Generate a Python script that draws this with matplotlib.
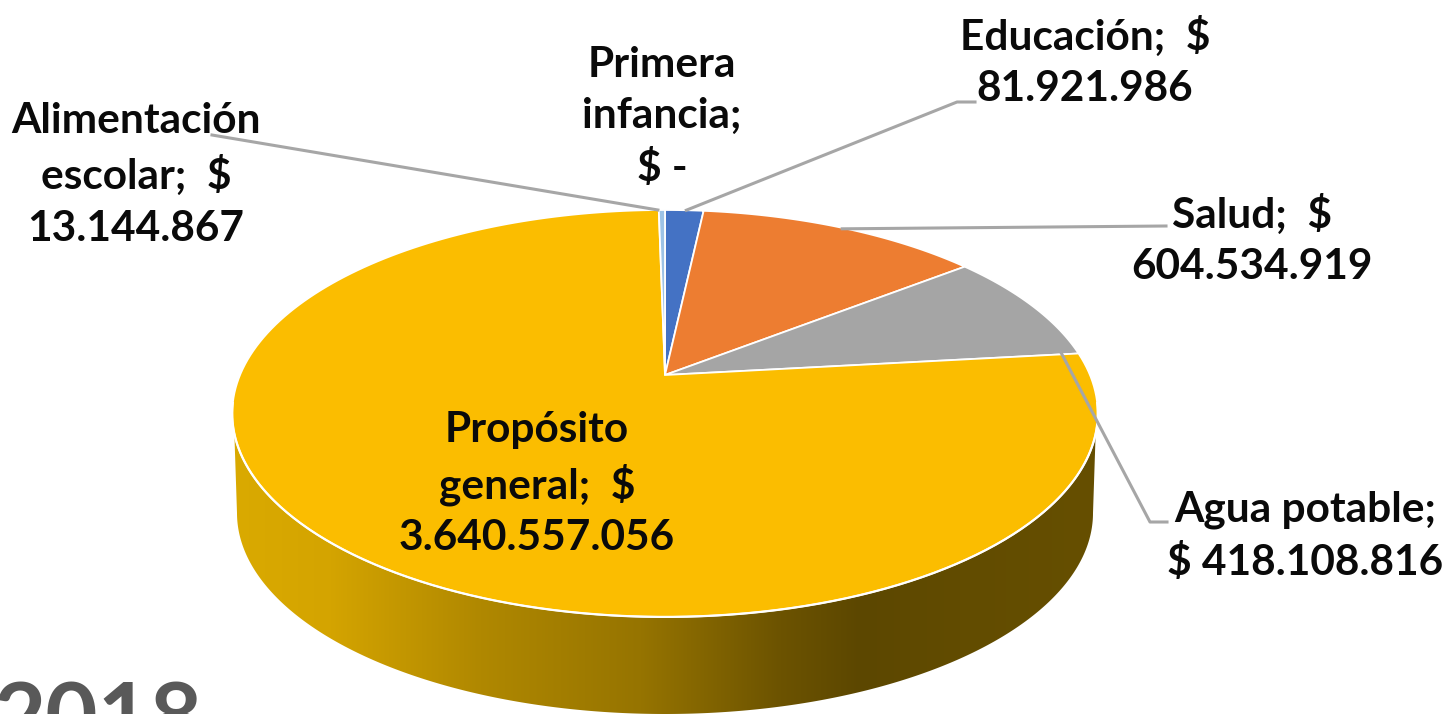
import numpy as np
import matplotlib
matplotlib.use("Agg")
import matplotlib.pyplot as plt
from matplotlib.patches import Polygon

categories = ["Educación", "Salud", "Agua potable", "Propósito general", "Alimentación escolar", "Primera infancia"]
values = [81921986, 604534919, 418108816, 3640557056, 13144867, 0]
slice_colors = ["#4472C4", "#ED7D31", "#A5A5A5", "#FBBD00", "#9DC3E6", "#FFFFFF"]

labels = [
    "Educación;  $\n81.921.986",
    "Salud;  $\n604.534.919",
    "Agua potable;\n$ 418.108.816",
    "Propósito\ngeneral;  $\n3.640.557.056",
    "Alimentación\nescolar;  $\n13.144.867",
    "Primera\ninfancia;\n$ -",
]
label_pos = [(1085, 62), (1252, 240), (1305, 536), (537, 484), (136, 175), (662, 117)]

# pie geometry in pixels (apex, radii, perspective)
CX, CY = 665, 375
RX, RY = 425, 196.2
K = 0.189
DEPTH = 100

FONT = "Lato"
LEADER = "#A6A6A6"


def project(t, r=1.0):
    # t in degrees clockwise from 12 o'clock, far edge is squeezed
    t = np.radians(t)
    x, y = r * np.sin(t), r * np.cos(t)
    d = 1 + K * y
    return CX + RX * x / d, CY - RY * y / d


def main():
    fig = plt.figure(figsize=(14.45, 7.14), dpi=100)
    ax = fig.add_axes([0, 0, 1, 1])
    ax.set_xlim(0, 1445)
    ax.set_ylim(714, 0)
    ax.axis("off")

    angles = np.concatenate([[0], np.cumsum(values) / np.sum(values) * 360])

    draw_wall(ax)

    for i in range(len(values)):
        if values[i] == 0:
            continue
        t = np.linspace(angles[i], angles[i + 1], 200)
        xs, ys = project(t)
        pts = np.column_stack([np.r_[CX, xs], np.r_[CY, ys]])
        ax.add_patch(Polygon(pts, closed=True, facecolor=slice_colors[i],
                             edgecolor="white", linewidth=1.3, zorder=3))

    # white rim along the front of the top face
    xs, ys = project(np.linspace(98, 262, 300))
    ax.plot(xs, ys, color="white", lw=1.6, zorder=4)

    # leaders
    mid = (angles[:-1] + angles[1:]) / 2
    ex, ey = project(mid[0])
    ax.plot([975, 957, ex + 2], [102, 102, ey], color=LEADER, lw=2.2, zorder=5)
    ex, ey = project(mid[1])
    ax.plot([1166, ex], [226, ey + 1], color=LEADER, lw=2.2, zorder=5)
    ex, ey = project(angles[3] - 1, 0.96)
    ax.plot([1167, 1150, ex], [522, 522, ey], color=LEADER, lw=2.2, zorder=5)
    ex, ey = project(mid[4])
    ax.plot([212, ex - 4], [135, ey], color=LEADER, lw=2.2, zorder=5)

    for text, (x, y) in zip(labels, label_pos):
        ax.text(x, y, text, ha="center", va="center", family=FONT, weight="bold",
                fontsize=30.5, color="#0A0A0A", linespacing=1.43, zorder=6)

    ax.text(-6, 748, "2018", ha="left", va="baseline", family=FONT, weight="bold",
            fontsize=65, color="#595959", clip_on=True, zorder=6)

    fig.savefig("out.png", dpi=100)


def draw_wall(ax):
    # side of the pie, shaded left to right
    t_top = np.linspace(90 + 7, 263, 300)
    xt, yt = project(t_top)
    theta = np.linspace(0, np.pi, 300)
    xb = CX + 428 * np.cos(theta)
    yb = 413 + DEPTH + 201 * np.sin(theta)
    # rim runs right to left, the bottom must close left to right
    pts = np.column_stack([np.r_[xt, xb[::-1]], np.r_[yt, yb[::-1]]])
    poly = Polygon(pts, closed=True, facecolor="none", edgecolor="none", transform=ax.transData)
    ax.add_patch(poly)

    px = np.arange(232, 1099)
    stops_x = [232, 330, 480, 640, 780, 860, 960, 1098]
    r = np.interp(px, stops_x, [218, 212, 176, 150, 108, 92, 98, 102])
    g = np.interp(px, stops_x, [170, 164, 136, 116, 83, 71, 76, 79])
    b = np.zeros_like(px)
    img = np.dstack([r, g, b])[0:1] / 255
    im = ax.imshow(img, extent=(232, 1099, 730, 400), aspect="auto", zorder=2)
    im.set_clip_path(poly)
    ax.set_xlim(0, 1445)
    ax.set_ylim(714, 0)


if __name__ == "__main__":
    main()
